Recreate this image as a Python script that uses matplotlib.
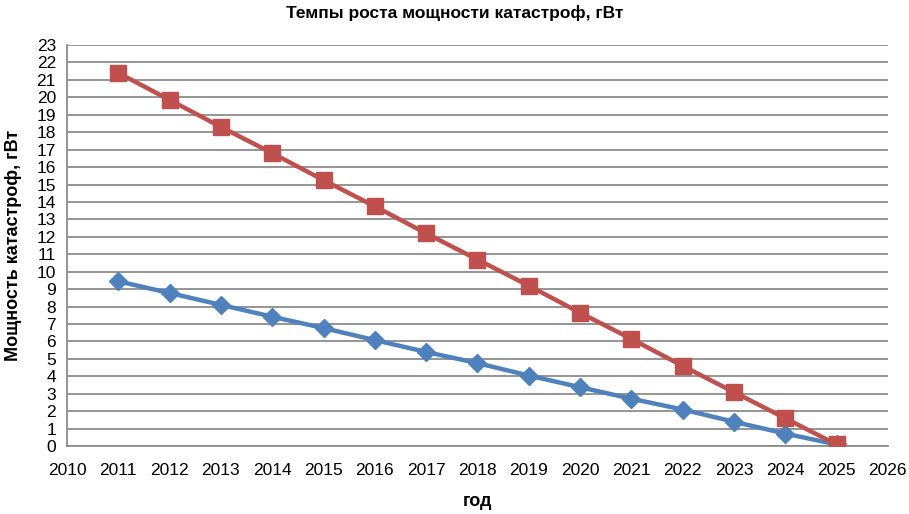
import matplotlib.pyplot as plt

plt.rcParams['font.family'] = ['Liberation Sans', 'DejaVu Sans']

# Данные
years = [2011, 2012, 2013, 2014, 2015, 2016, 2017, 2018,
         2019, 2020, 2021, 2022, 2023, 2024, 2025]
red_vals = [21.4, 19.85, 18.3, 16.8, 15.25, 13.75, 12.2, 10.7,
            9.2, 7.65, 6.15, 4.6, 3.1, 1.6, 0.1]
blue_vals = [9.45, 8.78, 8.1, 7.42, 6.77, 6.08, 5.4, 4.76,
             4.05, 3.38, 2.72, 2.1, 1.4, 0.72, 0.1]
x_ticks = list(range(2010, 2027))
y_ticks = list(range(0, 24))

fig = plt.figure(figsize=(9.09, 5.14), dpi=100)
ax = fig.add_axes([0.0737, 0.132, 0.903, 0.7805])

ax.plot(years, blue_vals, color='#4F81BD', lw=3.2, marker='D',
        markersize=9, zorder=3)
ax.plot(years, red_vals, color='#C0504D', lw=3.2, marker='s',
        markersize=11, zorder=4)

ax.set_xlim(2010, 2026)
ax.set_ylim(0, 23)
ax.set_xticks(x_ticks)
ax.set_yticks(y_ticks)
ax.tick_params(axis='both', length=0, labelsize=12.5)
ax.tick_params(axis='x', pad=12)
ax.tick_params(axis='y', pad=8)

ax.grid(axis='y', color='#8c8c8c', lw=1.3)
ax.set_axisbelow(True)
for s in ['top', 'right']:
    ax.spines[s].set_visible(False)
ax.spines['left'].set_color('#8c8c8c')
ax.spines['bottom'].set_color('#8c8c8c')
ax.spines['left'].set_linewidth(1.3)
ax.spines['bottom'].set_linewidth(1.3)

ax.set_xlabel('год', fontsize=13, fontweight='bold', labelpad=11)
ax.set_ylabel('Мощность катастроф, гВт', fontsize=13, fontweight='bold',
              labelpad=10)
fig.text(0.5, 0.975, 'Темпы роста мощности катастроф, гВт', ha='center',
         va='center', fontsize=12.5, fontweight='bold')

fig.savefig('out.png', dpi=100)
